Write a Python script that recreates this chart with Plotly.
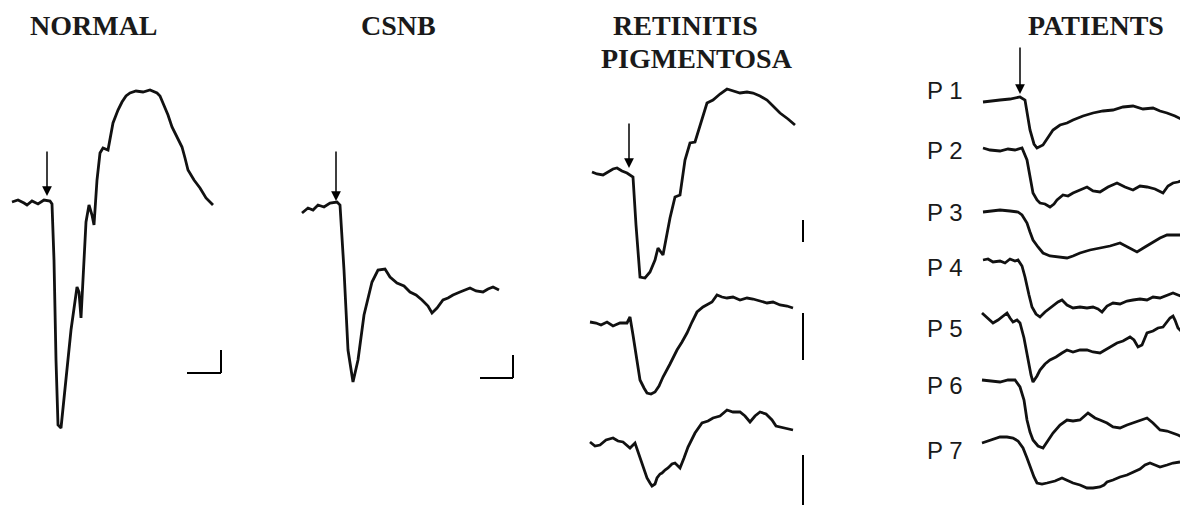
import plotly.graph_objects as go

# traces (x, y in figure pixels, y grows downward)
normal_x = [12, 18, 24, 27, 32, 38, 44, 50, 52, 54, 56, 58, 61, 66, 71, 77, 79, 81, 83, 86, 89, 92, 94, 97, 100, 103, 108, 113, 118, 122, 126, 130, 136, 143, 150, 157, 160, 163, 168, 172, 177, 182, 185, 188, 194, 200, 206, 213]
normal_y = [202, 200, 203, 205, 201, 204, 200, 201, 204, 260, 360, 425, 428, 380, 330, 287, 292, 318, 280, 222, 205, 215, 225, 180, 153, 148, 150, 123, 110, 102, 96, 93, 91, 92, 90, 93, 96, 103, 115, 127, 137, 147, 158, 170, 180, 188, 198, 205]

csnb_x = [302, 308, 313, 318, 324, 330, 337, 340, 344, 348, 353, 358, 364, 372, 378, 385, 390, 397, 404, 410, 416, 422, 428, 432, 437, 443, 448, 453, 460, 466, 470, 476, 483, 488, 493, 499]
csnb_y = [213, 208, 210, 205, 207, 203, 202, 205, 270, 350, 382, 360, 315, 282, 270, 269, 277, 283, 286, 292, 295, 300, 306, 313, 308, 300, 298, 295, 292, 290, 288, 291, 292, 289, 287, 290]

rp1_x = [592, 597, 603, 608, 613, 617, 622, 627, 633, 636, 640, 645, 650, 655, 658, 663, 667, 670, 675, 680, 685, 690, 695, 702, 707, 713, 720, 727, 733, 740, 747, 753, 760, 767, 773, 780, 788, 795]
rp1_y = [172, 174, 175, 172, 169, 168, 171, 173, 177, 225, 277, 278, 272, 260, 248, 255, 235, 218, 197, 195, 160, 143, 142, 120, 103, 100, 94, 89, 91, 93, 92, 93, 96, 100, 106, 113, 119, 125]

rp2_x = [590, 596, 601, 607, 613, 620, 627, 630, 633, 637, 640, 644, 647, 651, 655, 659, 663, 670, 677, 682, 687, 692, 697, 703, 708, 712, 717, 722, 727, 733, 740, 747, 753, 760, 767, 773, 780, 787, 793]
rp2_y = [322, 323, 325, 322, 326, 323, 323, 317, 335, 360, 380, 388, 393, 394, 392, 386, 377, 364, 350, 342, 333, 322, 312, 307, 304, 302, 295, 297, 298, 297, 300, 298, 299, 301, 303, 302, 305, 306, 308]

rp3_x = [590, 595, 600, 606, 613, 618, 623, 630, 635, 638, 642, 645, 647, 650, 652, 655, 657, 660, 662, 665, 668, 672, 675, 678, 680, 684, 688, 695, 702, 708, 713, 720, 727, 733, 740, 745, 750, 755, 760, 766, 772, 776, 780, 787, 793]
rp3_y = [442, 446, 445, 440, 438, 441, 442, 448, 443, 452, 465, 473, 478, 483, 486, 484, 478, 474, 473, 470, 468, 464, 463, 466, 468, 458, 447, 433, 423, 421, 418, 416, 410, 412, 412, 416, 422, 416, 412, 414, 420, 426, 427, 428, 430]

p1_x = [983, 990, 1000, 1010, 1020, 1025, 1030, 1034, 1037, 1043, 1048, 1053, 1060, 1067, 1073, 1083, 1093, 1103, 1113, 1123, 1133, 1143, 1153, 1160, 1167, 1175, 1183]
p1_y = [102, 101, 100, 99, 97, 100, 130, 144, 148, 145, 137, 130, 125, 123, 120, 116, 113, 111, 110, 107, 106, 109, 108, 111, 113, 116, 120]

p2_x = [983, 990, 1000, 1008, 1015, 1022, 1027, 1030, 1033, 1037, 1040, 1045, 1050, 1054, 1057, 1063, 1068, 1073, 1080, 1087, 1093, 1100, 1108, 1117, 1125, 1133, 1140, 1147, 1155, 1163, 1168, 1173, 1178, 1183]
p2_y = [148, 150, 151, 149, 150, 148, 160, 178, 193, 200, 203, 204, 207, 204, 200, 195, 196, 193, 190, 187, 191, 192, 187, 183, 187, 190, 186, 187, 189, 193, 186, 183, 182, 180]

p3_x = [983, 992, 1000, 1010, 1018, 1022, 1027, 1030, 1033, 1038, 1043, 1050, 1057, 1062, 1067, 1073, 1080, 1090, 1100, 1110, 1120, 1128, 1137, 1145, 1153, 1160, 1167, 1175, 1183]
p3_y = [212, 211, 210, 211, 212, 215, 223, 232, 240, 247, 253, 256, 257, 257, 258, 256, 253, 250, 248, 246, 243, 247, 252, 247, 242, 238, 235, 235, 235]

p4_x = [983, 988, 993, 1000, 1005, 1010, 1015, 1018, 1022, 1025, 1029, 1032, 1036, 1040, 1045, 1050, 1055, 1058, 1062, 1067, 1073, 1080, 1087, 1093, 1098, 1102, 1107, 1113, 1120, 1127, 1133, 1140, 1147, 1153, 1160, 1167, 1173, 1178, 1183]
p4_y = [260, 259, 262, 261, 263, 259, 261, 260, 266, 277, 295, 307, 314, 317, 312, 308, 304, 302, 300, 305, 308, 307, 308, 307, 309, 312, 306, 303, 304, 301, 300, 299, 300, 297, 298, 295, 293, 295, 297]

p5_x = [982, 987, 993, 998, 1003, 1007, 1010, 1013, 1017, 1020, 1024, 1028, 1031, 1033, 1037, 1040, 1045, 1050, 1056, 1062, 1067, 1073, 1080, 1087, 1093, 1100, 1108, 1117, 1123, 1130, 1134, 1138, 1142, 1147, 1153, 1158, 1163, 1167, 1170, 1173, 1175, 1178, 1182]
p5_y = [313, 318, 323, 320, 316, 313, 318, 322, 320, 323, 338, 360, 375, 382, 376, 370, 364, 360, 357, 353, 350, 352, 350, 350, 352, 353, 348, 343, 341, 337, 340, 347, 345, 333, 331, 328, 327, 322, 318, 316, 320, 328, 332]

p6_x = [982, 990, 1000, 1008, 1015, 1020, 1024, 1027, 1030, 1033, 1038, 1043, 1048, 1053, 1060, 1067, 1073, 1080, 1088, 1095, 1100, 1107, 1113, 1120, 1127, 1133, 1140, 1147, 1153, 1160, 1167, 1173, 1178, 1182]
p6_y = [380, 381, 382, 380, 380, 387, 400, 420, 432, 440, 446, 448, 440, 433, 425, 420, 421, 420, 413, 418, 420, 423, 427, 428, 425, 423, 421, 418, 423, 430, 431, 433, 435, 437]

p7_x = [982, 990, 1000, 1007, 1013, 1018, 1023, 1027, 1030, 1034, 1037, 1042, 1047, 1055, 1062, 1068, 1073, 1080, 1087, 1093, 1100, 1104, 1107, 1113, 1120, 1127, 1133, 1140, 1145, 1150, 1155, 1160, 1167, 1173, 1180]
p7_y = [443, 440, 437, 437, 438, 441, 448, 458, 467, 477, 483, 484, 483, 481, 478, 481, 483, 485, 488, 488, 487, 485, 482, 480, 477, 475, 472, 469, 465, 463, 465, 467, 465, 463, 462]

traces = [
    (normal_x, normal_y), (csnb_x, csnb_y),
    (rp1_x, rp1_y), (rp2_x, rp2_y), (rp3_x, rp3_y),
    (p1_x, p1_y), (p2_x, p2_y), (p3_x, p3_y), (p4_x, p4_y),
    (p5_x, p5_y), (p6_x, p6_y), (p7_x, p7_y),
]

patient_labels = ['P 1', 'P 2', 'P 3', 'P 4', 'P 5', 'P 6', 'P 7']
patient_label_y = [90, 150, 212, 267, 328, 385, 450]

fig = go.Figure()
for xs, ys in traces:
    fig.add_trace(go.Scatter(x=xs, y=ys, mode='lines',
                             line=dict(color='#111', width=2.8),
                             hoverinfo='skip', showlegend=False))

# column headings
title_font = dict(family='Liberation Serif', size=28, color='#1a1a1a')
headings = [('<b>NORMAL</b>', 94, 25), ('<b>CSNB</b>', 398, 25),
            ('<b>RETINITIS</b>', 685, 25), ('<b>PIGMENTOSA</b>', 697, 58),
            ('<b>PATIENTS</b>', 1096, 25)]
for txt, x, y in headings:
    fig.add_annotation(x=x, y=y, text=txt, showarrow=False, font=title_font,
                       xanchor='center', yanchor='middle')

for lab, y in zip(patient_labels, patient_label_y):
    fig.add_annotation(x=945, y=y, text=lab, showarrow=False,
                       font=dict(family='Liberation Sans', size=24, color='#1a1a1a'),
                       xanchor='center', yanchor='middle')

# stimulus arrows
for x, y0, y1 in [(47, 150, 196), (336, 150, 201), (629, 122, 168), (1020, 46, 94)]:
    fig.add_annotation(x=x, y=y1, ax=x, ay=y0, axref='x', ayref='y',
                       showarrow=True, arrowhead=2, arrowsize=1.3,
                       arrowwidth=1.5, arrowcolor='black', text='')

# calibration bars
bar = dict(color='black', width=2)
fig.add_shape(type='line', x0=187, x1=221, y0=373, y1=373, line=bar)
fig.add_shape(type='line', x0=221, x1=221, y0=350, y1=373, line=bar)
fig.add_shape(type='line', x0=480, x1=513, y0=378, y1=378, line=bar)
fig.add_shape(type='line', x0=513, x1=513, y0=355, y1=378, line=bar)
fig.add_shape(type='line', x0=803, x1=803, y0=220, y1=242, line=bar)
fig.add_shape(type='line', x0=803, x1=803, y0=313, y1=360, line=bar)
fig.add_shape(type='line', x0=803, x1=803, y0=455, y1=505, line=bar)

# the page body adds an 8px margin, so the figure starts at (8, 8)
fig.update_layout(width=1180, height=497, margin=dict(l=0, r=0, t=0, b=0),
                  paper_bgcolor='white', plot_bgcolor='white',
                  xaxis=dict(range=[8, 1188], visible=False),
                  yaxis=dict(range=[505, 8], visible=False))

fig.write_html("out.html")
